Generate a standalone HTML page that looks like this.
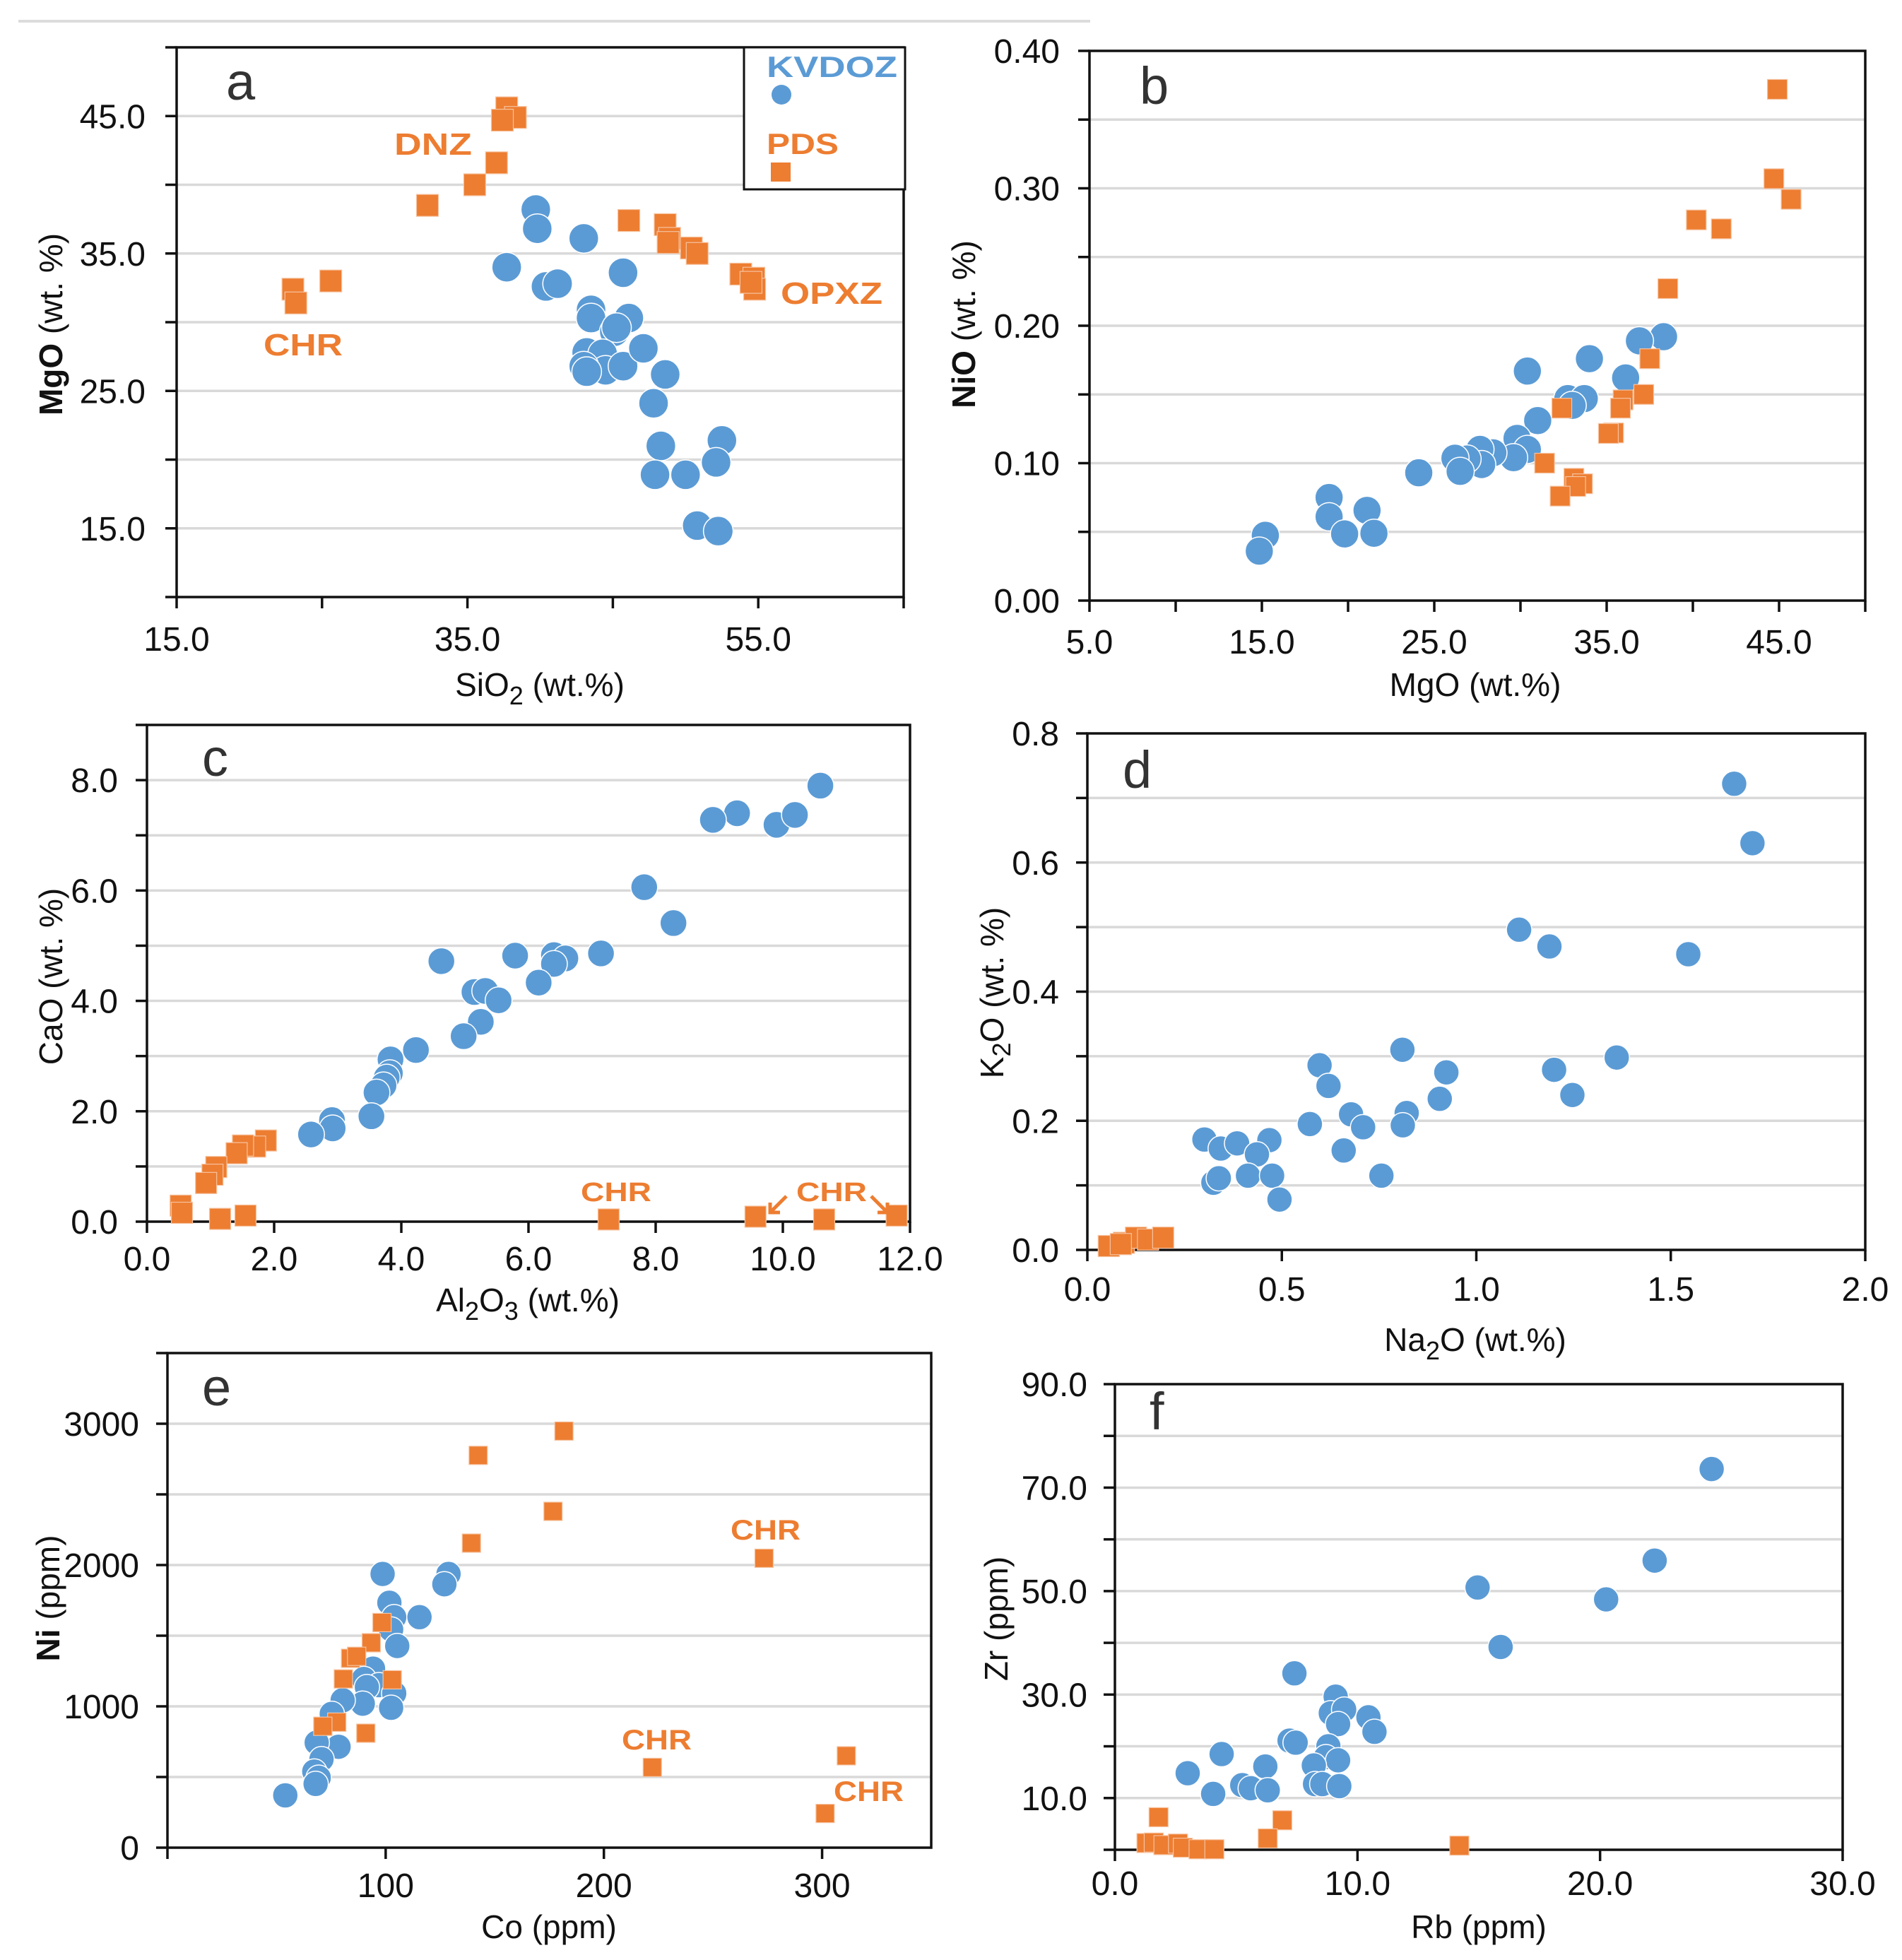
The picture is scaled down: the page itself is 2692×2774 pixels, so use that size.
<!DOCTYPE html>
<html><head><meta charset="utf-8">
<style>
html,body{margin:0;padding:0;background:#fff;}
svg{display:block;font-family:"Liberation Sans",Arial,sans-serif;}
</style></head>
<body>
<svg id="fig" width="2692" height="2774" viewBox="0 0 2692 2774" xmlns="http://www.w3.org/2000/svg">
<rect x="0" y="0" width="2692" height="2774" fill="#fff"/>
<line x1="26" y1="30" x2="1543" y2="30" stroke="#dcdcdc" stroke-width="4"/>
</svg>
<script>
// ---------- DATA ----------
// Panel a: SiO2 vs MgO
const aBlueX = [39.7,39.8,43.0,37.7,40.4,41.2,45.7,43.5,43.5,46.1,45.1,45.25,43.2,44.3,44.5,43.0,43.2,45.7,47.1,48.6,47.8,48.3,52.5,52.1,47.9,50.0,50.8,52.25];
const aBlueY = [38.2,36.8,36.1,34.0,32.6,32.8,33.6,30.9,30.3,30.3,29.3,29.6,27.8,27.7,26.5,26.8,26.4,26.8,28.1,26.2,24.1,21.0,21.4,19.8,18.9,18.9,15.2,14.8];
const aOrX = [37.7,38.3,37.4,37.0,35.5,32.25,46.1,48.6,48.9,48.8,50.4,50.8,53.8,54.7,54.75,54.5,23.0,23.2,25.6];
const aOrY = [45.6,44.9,44.7,41.6,40.0,38.5,37.4,37.1,36.1,35.8,35.4,35.0,33.5,33.2,32.4,32.9,32.4,31.4,33.0];
// Panel b: MgO vs NiO
const bBlueX = [38.3,36.9,34.0,36.1,30.4,32.75,33.7,33.0,31.0,29.8,30.4,29.6,28.4,27.65,27.75,26.9,26.2,26.5,24.1,18.9,18.9,21.1,19.8,21.5,15.2,14.85];
const bBlueY = [0.192,0.189,0.176,0.162,0.167,0.147,0.147,0.142,0.131,0.118,0.110,0.104,0.1075,0.110,0.099,0.103,0.1036,0.094,0.093,0.075,0.061,0.0656,0.0485,0.049,0.0475,0.036];
const bOrX = [44.9,44.7,45.7,40.2,41.65,38.55,37.5,37.15,35.95,35.8,35.4,35.1,32.4,31.4,33.1,33.6,33.2,32.3];
const bOrY = [0.372,0.307,0.292,0.277,0.2705,0.227,0.176,0.150,0.146,0.140,0.122,0.1216,0.140,0.100,0.089,0.085,0.083,0.076];
// Panel c: Al2O3 vs CaO
const cBlueX = [10.59,9.28,8.90,9.90,10.19,7.82,8.28,4.63,5.79,6.40,6.58,6.40,7.14,6.16,5.15,5.32,5.53,5.25,4.98,4.23,3.83,3.82,3.77,3.72,3.61,3.53,2.91,2.92,2.58];
const cBlueY = [7.90,7.40,7.28,7.19,7.37,6.06,5.41,4.72,4.82,4.83,4.77,4.67,4.86,4.33,4.16,4.18,4.01,3.62,3.36,3.11,2.94,2.69,2.61,2.47,2.34,1.91,1.84,1.69,1.58];
const cOrX = [1.87,1.70,1.51,1.41,1.09,1.03,0.93,0.53,0.55,1.15,1.55,7.26,9.57,10.65,11.79];
const cOrY = [1.47,1.36,1.38,1.24,0.99,0.85,0.70,0.29,0.16,0.05,0.11,0.04,0.09,0.04,0.11];
// Panel d: Na2O vs K2O
const dBlueX = [1.663,1.710,1.110,1.188,1.545,0.810,1.361,0.597,1.200,0.923,0.620,1.247,0.906,0.678,0.709,0.821,0.811,0.572,0.301,0.343,0.385,0.468,0.436,0.659,0.324,0.338,0.413,0.475,0.756,0.494];
const dBlueY = [0.722,0.630,0.496,0.470,0.458,0.310,0.298,0.286,0.279,0.275,0.254,0.240,0.234,0.210,0.190,0.212,0.193,0.195,0.171,0.157,0.165,0.170,0.148,0.154,0.104,0.111,0.115,0.115,0.115,0.078];
const dOrX = [0.055,0.094,0.125,0.156,0.195,0.086];
const dOrY = [0.006,0.011,0.019,0.016,0.019,0.009];
// Panel e: Co vs Ni
const eBlueX = [98.6,128.8,126.9,101.7,103.9,115.5,102.5,105.3,94.2,90.0,96.9,91.4,103.9,89.5,102.5,80.3,75.3,78.4,68.4,70.6,67.3,69.3,67.9,54.0];
const eBlueY = [1937,1937,1864,1733,1631,1631,1544,1427,1267,1194,1150,1136,1092,1019,990,1043,947,714,743,626,539,495,451,370];
const eOrX = [181.7,142.4,176.7,139.3,273.4,98.3,93.4,83.9,86.7,80.6,103.0,77.6,71.2,90.9,222.2,311.1,301.4];
const eOrY = [2948,2776,2380,2155,2048,1593,1450,1340,1354,1194,1188,888,859,810,568,650,242];
// Panel f: Rb vs Zr
const fBlueX = [24.6,22.25,14.95,20.25,15.9,7.4,9.1,8.9,9.45,9.2,10.45,10.7,7.2,7.45,8.8,8.7,9.2,8.2,4.4,6.2,3.0,5.25,5.6,6.3,4.05,8.25,8.55,9.25];
const fBlueY = [73.6,55.9,50.7,48.4,39.2,34.1,29.6,26.4,27.1,24.3,25.6,22.8,21.1,20.7,20.0,17.9,17.3,16.3,18.5,16.1,14.8,12.5,11.9,11.5,10.8,12.7,12.7,12.3];
const fOrX = [1.8,6.9,6.3,1.3,1.6,2.0,2.6,2.8,3.45,4.1,14.2];
const fOrY = [6.3,5.7,2.2,1.3,1.4,0.9,1.2,0.4,0.1,0.1,0.8];
// Tick labels
const aXLabels = ["15.0","35.0","55.0"]; const aYLabels = ["15.0","25.0","35.0","45.0"];
const bXLabels = ["5.0","15.0","25.0","35.0","45.0"]; const bYLabels = ["0.00","0.10","0.20","0.30","0.40"];
const cXLabels = ["0.0","2.0","4.0","6.0","8.0","10.0","12.0"]; const cYLabels = ["0.0","2.0","4.0","6.0","8.0"];
const dXLabels = ["0.0","0.5","1.0","1.5","2.0"]; const dYLabels = ["0.0","0.2","0.4","0.6","0.8"];
const eXLabels = ["100","200","300"]; const eYLabels = ["0","1000","2000","3000"];
const fXLabels = ["0.0","10.0","20.0","30.0"]; const fYLabels = ["10.0","30.0","50.0","70.0","90.0"];

// ---------- DRAW ----------
const NS = "http://www.w3.org/2000/svg";
const svg = document.getElementById("fig");
const BLUE = "#5B9BD5", ORANGE = "#ED7D31";
function el(tag, attrs, parent){
  const e = document.createElementNS(NS, tag);
  for (const k in attrs) e.setAttribute(k, attrs[k]);
  (parent||svg).appendChild(e); return e;
}
function panel(p){
  const g = el("g", {});
  
  
  const sx = v => p.L + (v - p.xmin) / (p.xmax - p.xmin) * (p.R - p.L);
  const sy = v => p.B - (v - p.ymin) / (p.ymax - p.ymin) * (p.B - p.T);
  // gridlines
  p.grid.forEach(v => {
    const l = el("line", {x1:p.L, x2:p.R, y1:sy(v), y2:sy(v), stroke:"#d9d9d9", "stroke-width":3.5}, g);
    
    
  });
  // y ticks
  p.yticks.forEach(v => {
    const t = el("line", {x1:p.L-16, x2:p.L, y1:sy(v), y2:sy(v), stroke:"#111", "stroke-width":3.5}, g);
    
    
  });
  p.xticks.forEach(v => {
    const t = el("line", {x1:sx(v), x2:sx(v), y1:p.B, y2:p.B+16, stroke:"#111", "stroke-width":3.5}, g);
    
    
  });
  // frame
  const fr = el("rect", {x:p.L, y:p.T, width:p.R-p.L, height:p.B-p.T, fill:"none", stroke:"#111", "stroke-width":3.5}, g);
  
  
  // tick labels
  p.ylabVals.forEach((v,i) => {
    const t = el("text", {x:p.ylabX, y:sy(v)+17, "text-anchor":"end", "font-size":48, fill:"#111"}, g);
    t.textContent = p.ylabels[i];
    
    
  });
  p.xlabVals.forEach((v,i) => {
    const t = el("text", {x:sx(v), y:p.xlabY, "text-anchor":"middle", "font-size":48, fill:"#111"}, g);
    t.textContent = p.xlabels[i];
    
    
  });
  // panel letter
  const lt = el("text", {x:p.letX, y:p.letY, "font-size":74, fill:"#333"}, g);
  lt.textContent = p.id;
  
  
  // x title
  const xt = el("text", {x:p.xtX, y:p.xtY, "text-anchor":"middle", "font-size":46, fill:"#111"}, g);
  xt.innerHTML = p.xtitle;
  
  
  const yt = el("text", {x:0, y:0, "text-anchor":"middle", "font-size":46, fill:"#111", transform:`translate(${p.ytX},${p.ytY}) rotate(-90)`}, g);
  yt.innerHTML = p.ytitle;
  
  
  // points
  p.bx.forEach((v,i) => {
    const c = el("circle", {cx:sx(v), cy:sy(p.by[i]), r:p.r, fill:BLUE, stroke:"#fff", "stroke-width":1.5}, g);
    
    
  });
  p.ox.forEach((v,i) => {
    const s = p.sq;
    const q = el("rect", {x:sx(v)-s/2, y:sy(p.oy[i])-s/2, width:s, height:s, fill:ORANGE, stroke:"#f6c3a0", "stroke-width":1.2}, g);
    
    
  });
  return g;
}
function range(a,b,s){const r=[];for(let v=a;v<=b+1e-9;v+=s)r.push(+v.toFixed(6));return r;}

panel({id:"a", L:250,R:1279,T:67,B:845, xmin:15,xmax:65, ymin:10,ymax:50,
  grid:range(15,45,5), yticks:range(10,50,5), xticks:range(15,65,10),
  ylabVals:[15,25,35,45], ylabels:aYLabels, ylabX:206, xlabVals:[15,35,55], xlabels:aXLabels, xlabY:921,
  letX:320,letY:141, xtX:764,xtY:985, xtitle:'SiO<tspan font-size="36" dy="12">2</tspan><tspan dy="-12"> (wt.%)</tspan>',
  ytX:88,ytY:459, ytitle:'<tspan font-weight="bold">MgO</tspan> (wt. %)',
  bx:aBlueX, by:aBlueY, ox:aOrX, oy:aOrY, r:21, sq:31});
panel({id:"b", L:1542,R:2640,T:72,B:850, xmin:5,xmax:50, ymin:0,ymax:0.4,
  grid:range(0.05,0.35,0.05), yticks:range(0,0.4,0.05), xticks:range(5,50,5),
  ylabVals:[0,0.1,0.2,0.3,0.4], ylabels:bYLabels, ylabX:1500, xlabVals:[5,15,25,35,45], xlabels:bXLabels, xlabY:925,
  letX:1613,letY:147, xtX:2088,xtY:985, xtitle:'MgO (wt.%)',
  ytX:1380,ytY:459, ytitle:'<tspan font-weight="bold">NiO</tspan> (wt. %)',
  bx:bBlueX, by:bBlueY, ox:bOrX, oy:bOrY, r:20, sq:28});
panel({id:"c", L:208,R:1288,T:1026,B:1729, xmin:0,xmax:12, ymin:0,ymax:9,
  grid:range(1,8,1), yticks:range(0,9,1), xticks:range(0,12,2),
  ylabVals:[0,2,4,6,8], ylabels:cYLabels, ylabX:167, xlabVals:[0,2,4,6,8,10,12], xlabels:cXLabels, xlabY:1798,
  letX:286,letY:1098, xtX:747,xtY:1856, xtitle:'Al<tspan font-size="36" dy="12">2</tspan><tspan dy="-12">O</tspan><tspan font-size="36" dy="12">3</tspan><tspan dy="-12"> (wt.%)</tspan>',
  ytX:88,ytY:1382, ytitle:'CaO (wt. %)',
  bx:cBlueX, by:cBlueY, ox:cOrX, oy:cOrY, r:19, sq:30});
panel({id:"d", L:1539,R:2640,T:1038,B:1769, xmin:0,xmax:2, ymin:0,ymax:0.8,
  grid:range(0.1,0.7,0.1), yticks:range(0,0.8,0.1), xticks:range(0,2,0.5),
  ylabVals:[0,0.2,0.4,0.6,0.8], ylabels:dYLabels, ylabX:1499, xlabVals:[0,0.5,1,1.5,2], xlabels:dXLabels, xlabY:1841,
  letX:1589,letY:1115, xtX:2088,xtY:1912, xtitle:'Na<tspan font-size="36" dy="12">2</tspan><tspan dy="-12">O (wt.%)</tspan>',
  ytX:1420,ytY:1405, ytitle:'K<tspan font-size="36" dy="10">2</tspan><tspan dy="-10">O (wt. %)</tspan>',
  bx:dBlueX, by:dBlueY, ox:dOrX, oy:dOrY, r:18, sq:30});
panel({id:"e", L:237,R:1318,T:1915,B:2615, xmin:0,xmax:350, ymin:0,ymax:3500,
  grid:range(500,3000,500), yticks:range(0,3500,500), xticks:range(0,300,100),
  ylabVals:[0,1000,2000,3000], ylabels:eYLabels, ylabX:197, xlabVals:[100,200,300], xlabels:eXLabels, xlabY:2685,
  letX:286,letY:1989, xtX:777,xtY:2743, xtitle:'Co (ppm)',
  ytX:84,ytY:2262, ytitle:'<tspan font-weight="bold">Ni</tspan> (ppm)',
  bx:eBlueX, by:eBlueY, ox:eOrX, oy:eOrY, r:18, sq:26});
panel({id:"f", L:1578,R:2608,T:1959,B:2618, xmin:0,xmax:30, ymin:0,ymax:90,
  grid:range(10,80,10), yticks:range(0,90,10), xticks:range(0,30,10),
  ylabVals:[10,30,50,70,90], ylabels:fYLabels, ylabX:1539, xlabVals:[0,10,20,30], xlabels:fXLabels, xlabY:2682,
  letX:1627,letY:2023, xtX:2093,xtY:2743, xtitle:'Rb (ppm)',
  ytX:1426,ytY:2291, ytitle:'Zr (ppm)',
  bx:fBlueX, by:fBlueY, ox:fOrX, oy:fOrY, r:18, sq:27});

// ---------- Annotations ----------
function label(txt, x, y, fs, w, color, name){
  const t = el("text", {x:x, y:y, "font-size":fs, "font-weight":"bold", fill:color, textLength:w, lengthAdjust:"spacingAndGlyphs"});
  t.textContent = txt;
  
  
  return t;
}
label("DNZ", 558, 219, 44, 110, ORANGE, "dnz-label");
label("CHR", 373, 503, 44, 112, ORANGE, "chr-label-a");
label("OPXZ", 1105, 430, 44, 144, ORANGE, "opxz-label");
label("CHR", 822, 1700, 38, 100, ORANGE, "chr-label-c1");
label("CHR", 1127, 1700, 38, 100, ORANGE, "chr-label-c2");
label("CHR", 1034, 2179, 40, 99, ORANGE, "chr-label-e1");
label("CHR", 880, 2476, 40, 99, ORANGE, "chr-label-e2");
label("CHR", 1180, 2549, 40, 99, ORANGE, "chr-label-e3");
// arrows in panel c
const ar1 = el("path", {d:"M1113,1693 L1090,1716 M1090,1702 L1090,1716 L1104,1716", stroke:ORANGE, "stroke-width":5, fill:"none"});


const ar2 = el("path", {d:"M1233,1693 L1256,1716 M1242,1716 L1256,1716 L1256,1702", stroke:ORANGE, "stroke-width":5, fill:"none"});


// legend
const lg = el("rect", {x:1053, y:67, width:228, height:201, fill:"#fff", stroke:"#111", "stroke-width":3});


label("KVDOZ", 1085, 109, 42, 185, BLUE, "legend-kvdoz-label");
const ld = el("circle", {cx:1106, cy:134, r:14, fill:BLUE});


label("PDS", 1085, 218, 42, 102, ORANGE, "legend-pds-label");
const ls = el("rect", {x:1091, y:230, width:28, height:27, fill:ORANGE});


</script>
</body></html>
